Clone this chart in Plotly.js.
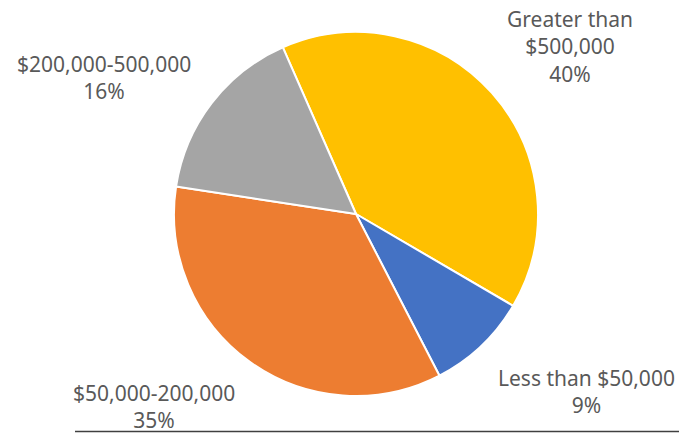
<!DOCTYPE html>
<html>
<head>
<meta charset="utf-8">
<script src="https://cdn.plot.ly/plotly-3.0.1.min.js"></script>
<style>html,body{margin:0;padding:0;background:#fff;}#chart{width:679px;height:433px;}</style>
</head>
<body>
<div id="chart"></div>
<script>
const categories = ["Greater than<br>$500,000", "Less than $50,000", "$50,000-200,000", "$200,000-500,000"];
const shares = [40, 9, 35, 16];
const sliceColors = ["#FFC000", "#4472C4", "#ED7D31", "#A5A5A5"];

const labelPos = [
  {x: 570, y: 46},
  {x: 586, y: 391},
  {x: 154, y: 406},
  {x: 104, y: 77}
];

const W = 679, H = 433;
const annotations = categories.map((c, i) => ({
  text: c + "<br>" + shares[i] + "%",
  x: labelPos[i].x / W,
  y: 1 - labelPos[i].y / H,
  xref: "paper", yref: "paper",
  xanchor: "center", yanchor: "middle",
  showarrow: false,
  align: "center",
  font: {family: "Noto Sans, Open Sans, sans-serif", size: 21, color: "#595959"}
}));

const data = [{
  type: "pie",
  labels: categories,
  values: shares,
  sort: false,
  direction: "clockwise",
  rotation: -23.7,
  marker: {colors: sliceColors, line: {color: "#ffffff", width: 2}},
  textinfo: "none",
  hoverinfo: "none",
  domain: {x: [(356 - 182) / W, (356 + 182) / W], y: [1 - 396 / H, 1 - 32 / H]}
}];

const layout = {
  width: W, height: H,
  margin: {l: 0, r: 0, t: 0, b: 0},
  showlegend: false,
  paper_bgcolor: "#ffffff",
  annotations: annotations,
  shapes: [{
    type: "line", xref: "paper", yref: "paper",
    x0: 75 / W, x1: 1, y0: 1.5 / H, y1: 1.5 / H,
    line: {color: "#404040", width: 1.5}
  }]
};

Plotly.newPlot("chart", data, layout, {staticPlot: true, displayModeBar: false});
</script>
</body>
</html>
